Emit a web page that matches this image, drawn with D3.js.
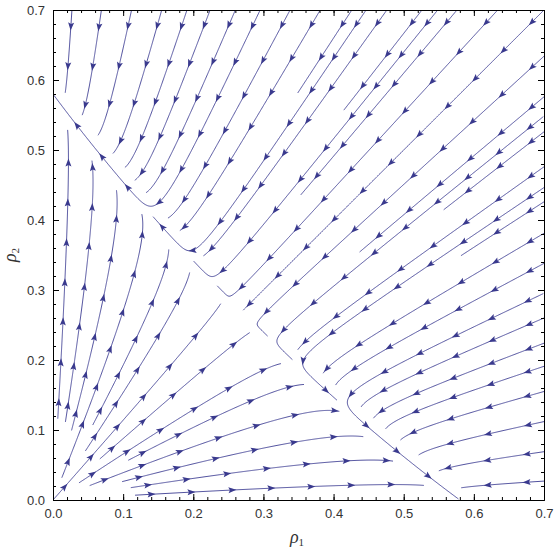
<!DOCTYPE html>
<html>
<head>
<meta charset="utf-8">
<script src="https://cdn.jsdelivr.net/npm/d3@7/dist/d3.min.js"></script>
<style>
body { margin: 0; background: #fff; }
.tick text { font-family: "Liberation Sans", Arial, sans-serif; font-size: 13px; fill: #333; }
</style>
</head>
<body>
<div id="chart"></div>
<script>
// two species competition: rho1' = rho1 (a - rho1 - b rho2), rho2' = rho2 (a - b rho1 - rho2)
var capacity = 0.58
var crossTerm = 1.15

var tickValues = [0, 0.1, 0.2, 0.3, 0.4, 0.5, 0.6, 0.7]
var tickLabels = ["0.0", "0.1", "0.2", "0.3", "0.4", "0.5", "0.6", "0.7"]

// streamlines that run onto the line rho1 + rho2 ~ 0.58 and slide along it (a point just before the bend)
var ridgeSeeds = [[0.16, 0.435], [0.435, 0.16], [0.212, 0.366], [0.366, 0.212], [0.242, 0.328], [0.328, 0.242]]
// streamlines coming in through the top edge (rho1 values) and the right edge (rho2 values)
var topSeeds = [0.027, 0.069, 0.112, 0.155, 0.191, 0.224, 0.26, 0.298, 0.338, 0.381, 0.426, 0.476, 0.526, 0.576, 0.634, 0.7]
var rightSeeds = [0.634, 0.576, 0.526, 0.476, 0.426, 0.381, 0.338, 0.298, 0.26, 0.224, 0.191, 0.155, 0.112, 0.069, 0.027]
// streamlines leaving the origin, one point on each (rho1, rho2)
var fanPoints = [[0.17, 0.195], [0.195, 0.17], [0.19, 0.31], [0.31, 0.19], [0.156, 0.319], [0.319, 0.156],
  [0.127, 0.377], [0.377, 0.127], [0.091, 0.411], [0.411, 0.091], [0.057, 0.462], [0.462, 0.057],
  [0.022, 0.493], [0.493, 0.022]]

var width = 556, height = 550
var x = d3.scaleLinear().domain([0, 0.7]).range([53, 544])
var y = d3.scaleLinear().domain([0, 0.7]).range([500, 10])

var svg = d3.select("#chart").append("svg")
  .attr("width", width)
  .attr("height", height)

function field(r1, r2) {
  return [r1 * (capacity - r1 - crossTerm * r2), r2 * (capacity - crossTerm * r1 - r2)]
}

var s = capacity / (1 + crossTerm)
var fixedPts = [[0, 0], [capacity, 0], [0, capacity], [s, s]]

// pixel direction of the flow at a pixel point
function dir(p, sign) {
  var f = field(x.invert(p[0]), y.invert(p[1]))
  var dx = x(f[0]) - x(0), dy = y(f[1]) - y(0)
  var n = Math.hypot(dx, dy)
  if (n < 1e-12) return null
  return [sign * dx / n, sign * dy / n]
}

var dTest = 10
var cell = dTest
var grid = {}
function key(i, j) { return i + "," + j }
function tooClose(p, dt) {
  var i = Math.floor(p[0] / cell), j = Math.floor(p[1] / cell)
  for (var a = -1; a <= 1; a++) for (var b = -1; b <= 1; b++) {
    var pts = grid[key(i + a, j + b)]
    if (!pts) continue
    for (var k = 0; k < pts.length; k++) {
      if (Math.hypot(pts[k][0] - p[0], pts[k][1] - p[1]) < dt) return true
    }
  }
  return false
}
function addToGrid(line) {
  line.forEach(function(p) {
    var k = key(Math.floor(p[0] / cell), Math.floor(p[1] / cell))
    if (!grid[k]) grid[k] = []
    grid[k].push(p)
  })
}

function trace(p0, sign, dt) {
  var pts = []
  var p = p0.slice()
  for (var step = 0; step < 2500; step++) {
    var d1 = dir(p, sign)
    if (!d1) break
    var mid = [p[0] + 0.5 * d1[0], p[1] + 0.5 * d1[1]]
    var d2 = dir(mid, sign)
    if (!d2) break
    var q = [p[0] + d2[0], p[1] + d2[1]]
    if (q[0] < x(0) || q[0] > x(0.7) || q[1] > y(0) || q[1] < y(0.7)) break
    var nearFixed = fixedPts.some(function(f) { return Math.hypot(x(f[0]) - q[0], y(f[1]) - q[1]) < 2 })
    if (nearFixed) { pts.push(q); break }
    if (tooClose(q, dt)) break
    pts.push(q)
    p = q
  }
  return pts
}

var lines = []
function addLine(r1, r2) {
  var p0 = [x(r1), y(r2)]
  if (tooClose(p0, dTest)) return
  var back = trace(p0, -1, dTest * 0.8).reverse()
  var fwd = trace(p0, 1, dTest)
  var line = back.concat([p0], fwd)
  if (line.length < 6) return
  lines.push(line)
  addToGrid(line)
}

ridgeSeeds.forEach(function(d) { addLine(d[0], d[1]) })
topSeeds.forEach(function(v) { addLine(v, 0.7) })
rightSeeds.forEach(function(v) { addLine(0.7, v) })
fanPoints.forEach(function(d) { addLine(d[0], d[1]) })

var clip = svg.append("clipPath").attr("id", "clip")
  .append("rect").attr("x", x(0)).attr("y", y(0.7)).attr("width", x(0.7) - x(0)).attr("height", y(0) - y(0.7))

var flow = svg.append("g").attr("clip-path", "url(#clip)")

flow.selectAll(".stream")
  .data(lines)
  .enter()
  .append("path")
  .attr("class", "stream")
  .attr("d", d3.line())
  .attr("fill", "none")
  .attr("stroke", "#50509e")
  .attr("stroke-width", 1)

// arrowheads along each line
var arrows = []
lines.forEach(function(line) {
  var len = 0, next = 18, gap = 40
  for (var i = 1; i < line.length; i++) {
    len += Math.hypot(line[i][0] - line[i - 1][0], line[i][1] - line[i - 1][1])
    if (len >= next && i + 2 < line.length) {
      var j = Math.max(0, i - 3), k = Math.min(line.length - 1, i + 3)
      var ang = Math.atan2(line[k][1] - line[j][1], line[k][0] - line[j][0]) * 180 / Math.PI
      arrows.push({p: line[i], a: ang})
      next += gap
    }
  }
})

flow.selectAll(".arrow")
  .data(arrows)
  .enter()
  .append("path")
  .attr("class", "arrow")
  .attr("d", "M2.5,0L-5.5,-3L-4,0L-5.5,3Z")
  .attr("transform", function(d) { return "translate(" + d.p[0] + "," + d.p[1] + ")rotate(" + d.a + ")" })
  .attr("fill", "#3a3a8e")

// frame with inward ticks
var minor = d3.range(0, 0.7001, 0.02)
function fmt(d) { var i = tickValues.indexOf(d); return i < 0 ? "" : tickLabels[i] }

svg.append("g").attr("transform", "translate(0," + y(0) + ")")
  .call(d3.axisBottom(x).tickValues(tickValues).tickFormat(fmt).tickSizeInner(-6).tickSizeOuter(0).tickPadding(9))
svg.append("g").attr("transform", "translate(" + x(0) + ",0)")
  .call(d3.axisLeft(y).tickValues(tickValues).tickFormat(fmt).tickSizeInner(-6).tickSizeOuter(0).tickPadding(8))
svg.append("g").attr("transform", "translate(0," + y(0.7) + ")")
  .call(d3.axisTop(x).tickValues(tickValues).tickFormat("").tickSizeInner(-6).tickSizeOuter(0))
svg.append("g").attr("transform", "translate(" + x(0.7) + ",0)")
  .call(d3.axisRight(y).tickValues(tickValues).tickFormat("").tickSizeInner(-6).tickSizeOuter(0))

svg.append("g").attr("transform", "translate(0," + y(0) + ")")
  .call(d3.axisBottom(x).tickValues(minor).tickFormat("").tickSizeInner(-3).tickSizeOuter(0))
svg.append("g").attr("transform", "translate(" + x(0) + ",0)")
  .call(d3.axisLeft(y).tickValues(minor).tickFormat("").tickSizeInner(-3).tickSizeOuter(0))
svg.append("g").attr("transform", "translate(0," + y(0.7) + ")")
  .call(d3.axisTop(x).tickValues(minor).tickFormat("").tickSizeInner(-3).tickSizeOuter(0))
svg.append("g").attr("transform", "translate(" + x(0.7) + ",0)")
  .call(d3.axisRight(y).tickValues(minor).tickFormat("").tickSizeInner(-3).tickSizeOuter(0))

svg.selectAll(".domain").attr("stroke", "#000")

svg.append("text")
  .attr("x", 297).attr("y", 543)
  .attr("text-anchor", "middle")
  .style("font-family", "'Liberation Serif', serif")
  .style("font-style", "italic")
  .style("font-size", "18px")
  .attr("fill", "#333")
  .html("ρ<tspan font-size='11px' font-style='normal' dy='3'>1</tspan>")

svg.append("text")
  .attr("transform", "translate(16,255)rotate(-90)")
  .attr("text-anchor", "middle")
  .style("font-family", "'Liberation Serif', serif")
  .style("font-style", "italic")
  .style("font-size", "18px")
  .attr("fill", "#333")
  .html("ρ<tspan font-size='11px' font-style='normal' dy='3'>2</tspan>")
</script>
</body>
</html>
